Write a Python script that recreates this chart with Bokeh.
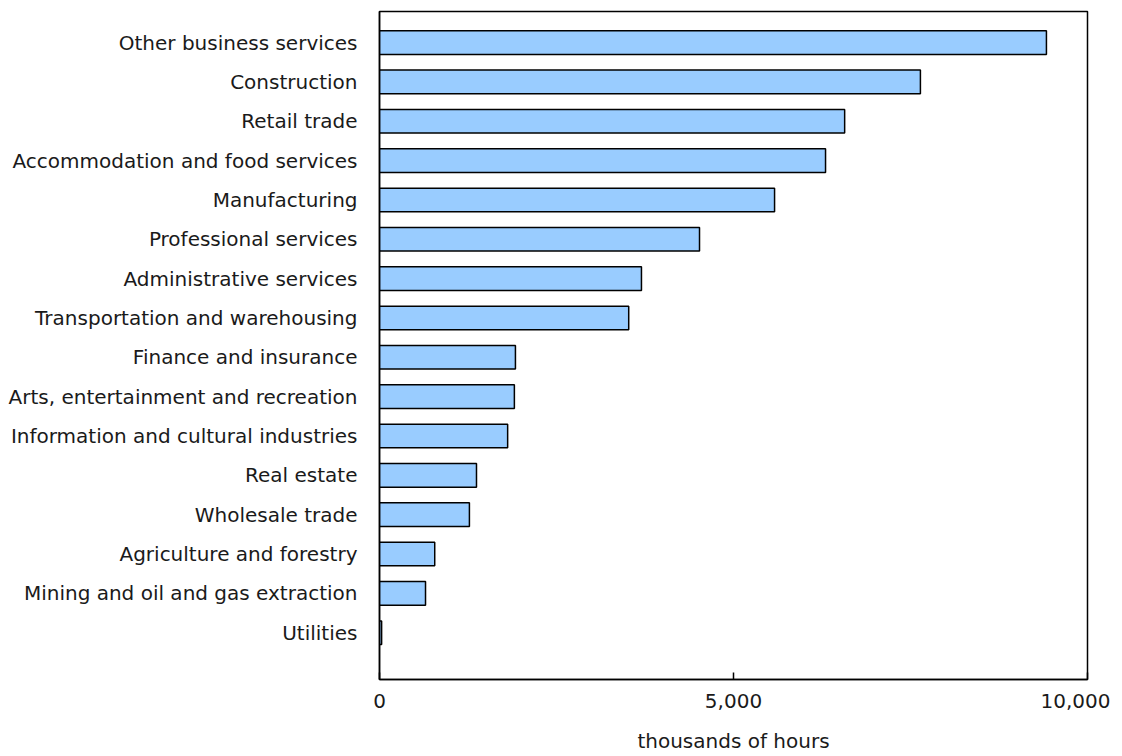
from bokeh.plotting import figure
from bokeh.models import ColumnDataSource, FixedTicker, NumeralTickFormatter, Range1d
from bokeh.embed import file_html
from bokeh.resources import INLINE

industries = [
    "Other business services",
    "Construction",
    "Retail trade",
    "Accommodation and food services",
    "Manufacturing",
    "Professional services",
    "Administrative services",
    "Transportation and warehousing",
    "Finance and insurance",
    "Arts, entertainment and recreation",
    "Information and cultural industries",
    "Real estate",
    "Wholesale trade",
    "Agriculture and forestry",
    "Mining and oil and gas extraction",
    "Utilities",
]
hours = [9420, 7640, 6570, 6300, 5580, 4520, 3700, 3520, 1920, 1905, 1810, 1370, 1270, 780, 650, 30]
x_ticks = [0, 5000, 10000]

n = len(industries)
ypos = [n - 1 - i for i in range(n)]
src = ColumnDataSource(dict(y=ypos, x=hours, name=industries))

p = figure(width=1110, height=755, output_backend="svg", toolbar_location=None,
           x_range=Range1d(0, 10000), y_range=Range1d(-1.19, n - 1 + 0.79),
           min_border_left=379, min_border_top=11, min_border_right=23, min_border_bottom=10)

p.hbar(y="y", right="x", left=0, height=0.6, source=src,
       fill_color="#99CCFF", line_color="black", line_width=1.5)

p.outline_line_color = "black"
p.outline_line_width = 1.5
p.xgrid.visible = False
p.ygrid.visible = False

FONT = "DejaVu Sans"
FS = "20px"
xa = p.xaxis[0]
xa.ticker = FixedTicker(ticks=x_ticks)
xa.formatter = NumeralTickFormatter(format="0,0")
xa.major_tick_in = 7
xa.major_tick_out = 0
xa.minor_tick_line_color = None
xa.axis_line_width = 1.5
xa.major_tick_line_width = 1.5
xa.major_label_text_font = FONT
xa.major_label_text_font_size = FS
xa.major_label_text_color = "#1a1a1a"
xa.major_label_standoff = 14
xa.axis_label = "thousands of hours"
xa.axis_label_text_font = FONT
xa.axis_label_text_font_size = FS
xa.axis_label_text_font_style = "normal"
xa.axis_label_text_color = "#1a1a1a"
xa.axis_label_standoff = 18

ya = p.yaxis[0]
ya.ticker = FixedTicker(ticks=ypos)
ya.major_label_overrides = {y: nm for y, nm in zip(ypos, industries)}
ya.major_tick_line_color = None
ya.minor_tick_line_color = None
ya.axis_line_width = 1.5
ya.major_label_text_font = FONT
ya.major_label_text_font_size = FS
ya.major_label_text_color = "#1a1a1a"
ya.major_label_standoff = 16

open("out.html", "w").write(file_html(p, INLINE))
